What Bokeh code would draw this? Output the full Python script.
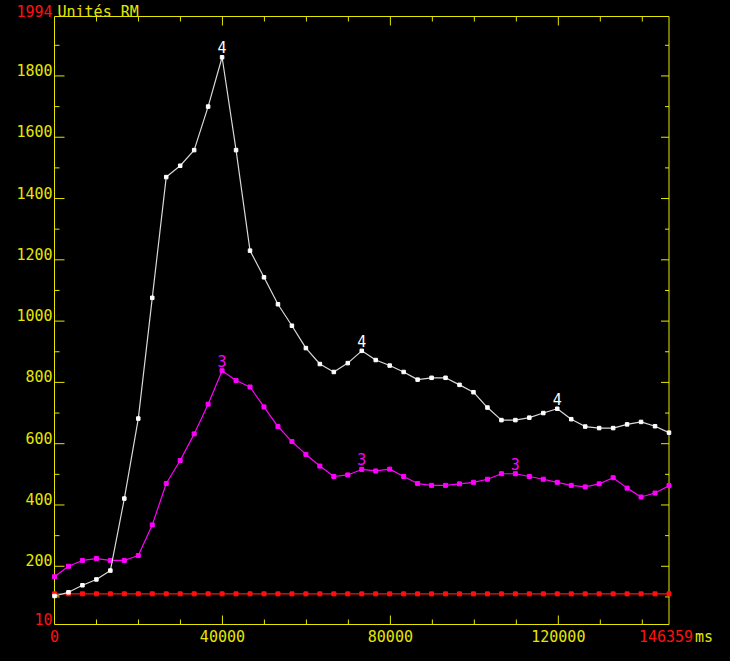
import math
from bokeh.plotting import figure
from bokeh.models import ColumnDataSource, Range1d, LabelSet
from bokeh.core.properties import value
from bokeh.embed import file_html
from bokeh.resources import INLINE

# ---------------- data ----------------
time_ms = [0, 3326, 6653, 9979, 13306, 16632, 19958, 23285, 26611, 29937,
           33264, 36590, 39916, 43243, 46569, 49896, 53222, 56548, 59875, 63201,
           66527, 69854, 73180, 76506, 79833, 83159, 86486, 89812, 93138, 96465,
           99791, 103117, 106444, 109770, 113096, 116423, 119749, 123075, 126402, 129728,
           133055, 136381, 139707, 143034, 146359]

series_4 = [103, 115, 138, 157, 186, 421, 682, 1076, 1470, 1507,
            1558, 1700, 1861, 1558, 1230, 1143, 1055, 985, 912, 860,
            834, 863, 903, 873, 855, 834, 809, 815, 815, 792,
            768, 718, 677, 677, 685, 700, 714, 680, 656, 651,
            651, 663, 671, 657, 636]

series_3 = [166, 200, 219, 225, 219, 219, 235, 335, 470, 545,
            632, 729, 838, 806, 785, 720, 656, 607, 565, 527,
            493, 498, 516, 511, 517, 493, 470, 464, 464, 469,
            474, 484, 502, 502, 493, 484, 474, 464, 459, 469,
            489, 455, 426, 439, 463]

series_ref = [110, 110, 110, 110, 110, 110, 110, 110, 110, 110,
              110, 110, 110, 110, 110, 110, 110, 110, 110, 110,
              110, 110, 110, 110, 110, 110, 110, 110, 110, 110,
              110, 110, 110, 110, 110, 110, 110, 110, 110, 110,
              110, 110, 110, 110, 110]

marks_4_idx = [12, 22, 36]
marks_3_idx = [12, 22, 33]

x_min, x_max = 0, 146359
y_min, y_max = 10, 1994
x_tick_values = [40000, 80000, 120000]
x_tick_labels = ["40000", "80000", "120000"]
x_minor = [10000, 20000, 30000, 50000, 60000, 70000, 90000, 100000, 110000, 130000, 140000]
y_tick_values = [200, 400, 600, 800, 1000, 1200, 1400, 1600, 1800]
y_tick_labels = ["200", "400", "600", "800", "1000", "1200", "1400", "1600", "1800"]
y_minor = [100, 300, 500, 700, 900, 1100, 1300, 1500, 1700, 1900]
unit_y = "Unités RM"
unit_x = "ms"

# ---------------- layout / style ----------------
W, H = 714, 645
BOX_L, BOX_R, BOX_T, BOX_B = 54.0, 668.5, 16.0, 624.0   # axis box in canvas pixels
YEL = "#e6e600"
RED = "#ff1010"
WHITE = "#ffffff"
GREY = "#d8d8d8"
MAG = "#ff00ff"
FONT = value("DejaVu Sans Mono")
FS = value("15px")

# ranges chosen so that the axis box lands on BOX_* pixels of a full-canvas frame
kx = (x_max - x_min) / (BOX_R - BOX_L)
ky = (y_max - y_min) / (BOX_B - BOX_T)
xr = Range1d(x_min - BOX_L * kx, x_max + (W - BOX_R) * kx)
yr = Range1d(y_min - (H - BOX_B) * ky, y_max + BOX_T * ky)

p = figure(width=W, height=H, output_backend="svg", toolbar_location=None,
           x_range=xr, y_range=yr, x_axis_location=None, y_axis_location=None,
           min_border=0, min_border_left=0, min_border_right=0,
           min_border_top=0, min_border_bottom=0)
p.background_fill_color = "black"
p.border_fill_color = "black"
p.outline_line_color = None
p.xgrid.visible = False
p.ygrid.visible = False

# axis box
p.quad(left=[x_min], right=[x_max], bottom=[y_min], top=[y_max],
       fill_color=None, line_color=YEL, line_width=1)

# tick marks (inward), drawn at tick values through the scales
def ticks_x(vals, y, angle, length):
    p.ray(x=vals, y=[y] * len(vals), length=length, length_units="screen", angle=angle,
          line_color=YEL, line_width=1)

def ticks_y(vals, x, angle, length):
    p.ray(x=[x] * len(vals), y=vals, length=length, length_units="screen", angle=angle,
          line_color=YEL, line_width=1)

ticks_x(x_tick_values, y_min, math.pi / 2, 9)
ticks_x(x_minor, y_min, math.pi / 2, 5)
ticks_x(x_tick_values, y_max, -math.pi / 2, 9)
ticks_x(x_minor, y_max, -math.pi / 2, 5)
ticks_y(y_tick_values, x_min, 0, 10)
ticks_y(y_minor, x_min, 0, 5)
ticks_y(y_tick_values, x_max, math.pi, 8)
ticks_y(y_minor, x_max, math.pi, 4)

# series
src = ColumnDataSource(dict(t=time_ms, s4=series_4, s3=series_3, r=series_ref))
p.line("t", "r", source=src, line_color=RED, line_width=1.2)
p.scatter("t", "r", source=src, marker="square", size=4, fill_color=RED, line_color=RED)
p.line("t", "s3", source=src, line_color=MAG, line_width=1.2)
p.scatter("t", "s3", source=src, marker="square", size=4, fill_color=MAG, line_color=MAG)
p.line("t", "s4", source=src, line_color=GREY, line_width=1.2)
p.scatter("t", "s4", source=src, marker="square", size=3.5, fill_color=WHITE, line_color=WHITE)

def labels(xs, ys, texts, color, align, xo=0, yo=0):
    s = ColumnDataSource(dict(x=xs, y=ys, text=texts))
    p.add_layout(LabelSet(x="x", y="y", text="text", source=s, text_color=color,
                          text_font=FONT, text_font_size=FS, text_align=align,
                          text_baseline="alphabetic", x_offset=xo, y_offset=yo))

# curve marks
labels([time_ms[i] for i in marks_4_idx], [series_4[i] for i in marks_4_idx],
       ["4"] * len(marks_4_idx), WHITE, "center", 0, 4)
labels([time_ms[i] for i in marks_3_idx], [series_3[i] for i in marks_3_idx],
       ["3"] * len(marks_3_idx), MAG, "center", 0, 4)

# tick labels
labels([x_min] * len(y_tick_values), y_tick_values, y_tick_labels, YEL, "right", -2, 0)
labels(x_tick_values, [y_min] * len(x_tick_values), x_tick_labels, YEL, "center", 0, -17)

# range extremes (red) and units
labels([x_min, x_min], [y_max, y_min], [str(y_max), str(y_min)], RED, "right", -2, 0)
labels([x_min], [y_max], [unit_y], YEL, "left", 3, 0)
labels([x_min], [y_min], [str(x_min)], RED, "center", 0, -17)
labels([x_max], [y_min], [str(x_max)], RED, "center", -3, -17)
labels([x_max], [y_min], [unit_x], YEL, "right", 44, -17)

html = file_html(p, INLINE)
html = html.replace("<head>", "<head><style>html,body{background:#000;}</style>", 1)
open("out.html", "w").write(html)
